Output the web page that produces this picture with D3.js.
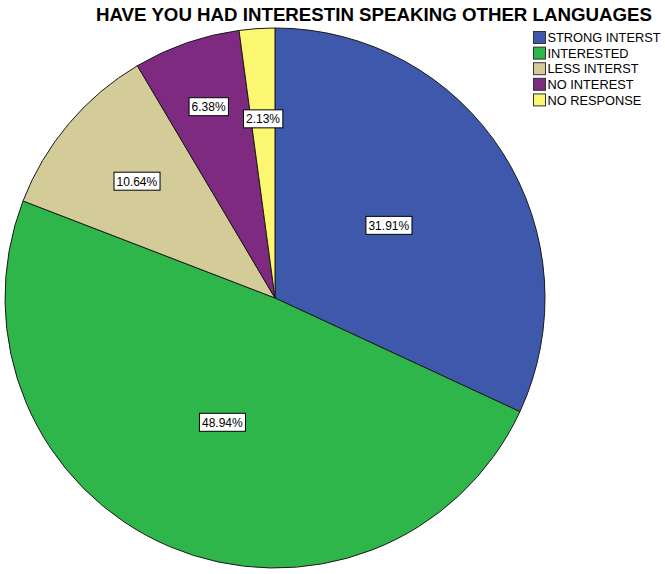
<!DOCTYPE html>
<html>
<head>
<meta charset="utf-8">
<script src="https://cdn.jsdelivr.net/npm/d3@7"></script>
<style>
  html, body { margin: 0; padding: 0; background: #fff; }
  svg { display: block; }
</style>
</head>
<body>
<svg id="chart" width="665" height="574"></svg>
<script>
// Survey responses (counts out of 47), in pie order clockwise from 12 o'clock
const categories = ["STRONG INTERST", "INTERESTED", "LESS INTERST", "NO INTEREST", "NO RESPONSE"];
const counts = [15, 23, 5, 3, 1];
const percentLabels = ["31.91%", "48.94%", "10.64%", "6.38%", "2.13%"];
const colors = ["#3E58AC", "#2EB64A", "#D3CC98", "#7D2A80", "#FBF770"];
// Radial placement of each percentage box, as a fraction of the pie radius
const labelRadiusFrac = [0.5, 0.5, 0.67, 0.75, 0.665];

const title = "HAVE YOU HAD INTERESTIN SPEAKING OTHER LANGUAGES";

const svg = d3.select("#chart");
const cx = 275, cy = 298, R = 270;

// Title
svg.append("text")
  .attr("x", 96)
  .attr("y", 21)
  .attr("textLength", 556)
  .attr("lengthAdjust", "spacingAndGlyphs")
  .attr("font-family", "'Liberation Sans', Arial, sans-serif")
  .attr("font-weight", "bold")
  .attr("font-size", 18.5)
  .attr("fill", "#000")
  .text(title);

const data = categories.map((c, i) => ({ name: c, value: counts[i], label: percentLabels[i], color: colors[i], i }));

const pie = d3.pie().value(d => d.value).sort(null);
const arcs = pie(data);
const arc = d3.arc().innerRadius(0).outerRadius(R);

const g = svg.append("g").attr("transform", `translate(${cx},${cy})`);

g.selectAll("path.slice")
  .data(arcs)
  .join("path")
  .attr("class", "slice")
  .attr("d", arc)
  .attr("fill", d => d.data.color)
  .attr("stroke", "#1a1a1a")
  .attr("stroke-width", 1)
  .attr("stroke-linejoin", "round");

// Percentage boxes
const lbl = g.selectAll("g.lbl")
  .data(arcs)
  .join("g")
  .attr("class", "lbl")
  .attr("transform", d => {
    const r = R * labelRadiusFrac[d.data.i];
    const [x, y] = d3.arc().innerRadius(r).outerRadius(r).centroid(d);
    return `translate(${x},${y})`;
  });

lbl.each(function(d) {
  const node = d3.select(this);
  const t = node.append("text")
    .attr("text-anchor", "middle")
    .attr("dy", "0.36em")
    .attr("font-family", "'Liberation Sans', Arial, sans-serif")
    .attr("font-size", 12)
    .attr("fill", "#000")
    .text(d.data.label);
  const bb = t.node().getBBox();
  node.insert("rect", "text")
    .attr("x", bb.x - 2.5)
    .attr("y", -9)
    .attr("width", bb.width + 5)
    .attr("height", 18)
    .attr("fill", "#fff")
    .attr("stroke", "#000")
    .attr("stroke-width", 1);
});

// Legend
const legend = svg.append("g").attr("transform", "translate(533,31)");
const rowH = 15.6;
const items = legend.selectAll("g.item")
  .data(data)
  .join("g")
  .attr("class", "item")
  .attr("transform", (d, i) => `translate(0,${i * rowH})`);

items.append("rect")
  .attr("x", 0.5)
  .attr("y", 0.5)
  .attr("width", 12)
  .attr("height", 12)
  .attr("fill", d => d.color)
  .attr("stroke", "#333")
  .attr("stroke-width", 1);

items.append("text")
  .attr("x", 14.5)
  .attr("y", 6.5)
  .attr("dy", "0.36em")
  .attr("font-family", "'Liberation Sans', Arial, sans-serif")
  .attr("font-size", 12.8)
  .attr("fill", "#000")
  .text(d => d.name);
</script>
</body>
</html>
